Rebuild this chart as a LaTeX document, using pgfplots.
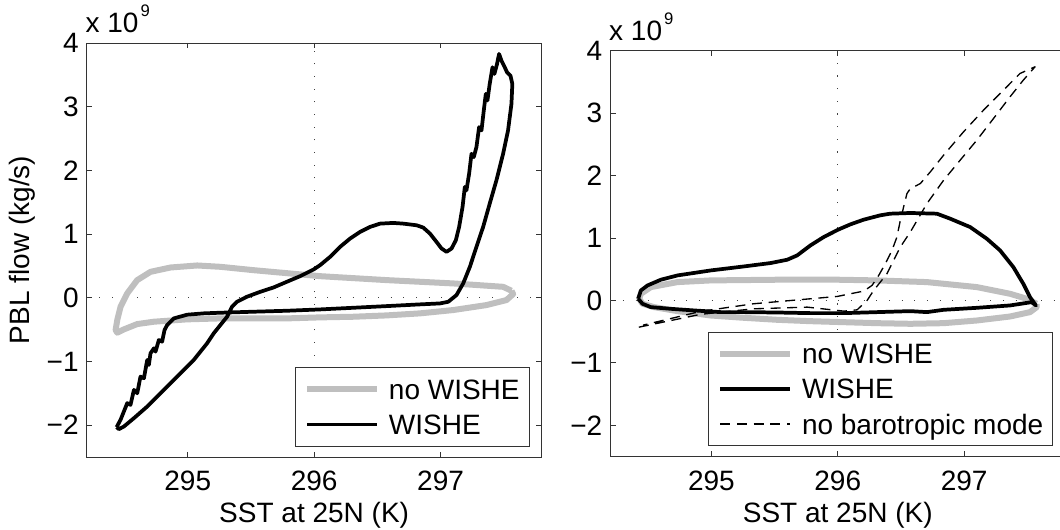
\documentclass[border=0pt]{standalone}
\usepackage{fontspec}
\setmainfont{Liberation Sans}
\usepackage{pgfplots}
\pgfplotsset{compat=1.18}
\definecolor{lgray}{gray}{0.75}
\pgfplotsset{
  mystyle/.style={
    scale only axis,
    clip=false,
    width=341.25pt,
    xmin=294.2, xmax=297.8,
    ymin=-2.5, ymax=4,
    xtick={295,296,297},
    xticklabels={295,296,297},
    ytick={-2,-1,0,1,2,3,4},
    yticklabels={−2,−1,0,1,2,3,4},
    tick align=inside,
    tick pos=both,
    major tick length=4pt,
    axis line style={black!80, line width=0.6pt},
    tick style={black!80, line width=0.6pt},
    tick label style={font=\fontsize{21}{24}\selectfont},
    xticklabel style={anchor=base, yshift=-25.3pt, inner sep=0pt},
    yticklabel style={anchor=east, inner sep=0pt, xshift=-5.8pt},
    label style={font=\fontsize{21}{24}\selectfont},
    xlabel={SST at 25N (K)},
    xlabel style={at={(axis description cs:0.5,0)}, anchor=base, yshift=-49.5pt},
    legend cell align=left,
    legend image code/.code={\draw[##1] (4pt,0pt) -- (56.5pt,0pt);},
    legend style={draw=black!80, line width=0.6pt, fill=white,
      font=\fontsize{21}{24}\selectfont,
      at={(1,0)}, anchor=south east, xshift=-9.2pt, yshift=7.8pt,
      inner xsep=7pt, inner ysep=8.75pt, row sep=11.3pt, column sep=6.5pt,
      nodes={inner sep=0pt, text height=15pt, text depth=0pt}},
    grayline/.style={lgray, line width=4.5pt, line join=round},
    blackline/.style={black, line width=2.8pt, line join=round},
    dotline/.style={forget plot, black!75, line width=0.8pt, dash pattern=on 0.8pt off 8.7pt},
  }
}
\begin{document}
\begin{tikzpicture}
% ---------------- left panel ----------------
\begin{axis}[mystyle, at={(65pt,54.75pt)}, anchor=south west, height=310.5pt,
  ylabel={PBL flow (kg/s)},
  ylabel style={at={(axis description cs:-0.142,0.5)}, anchor=center, rotate=0}]
\addplot[dotline] coordinates {(296,-2.5) (296,4)};
\addplot[dotline] coordinates {(294.2,0) (297.8,0)};
\addplot[grayline] coordinates {
(297.561,0.110) (297.495,0.172) (297.100,0.225) (296.574,0.277) (296.047,0.339)
(295.521,0.433) (295.258,0.486) (295.074,0.507) (294.863,0.475) (294.705,0.407)
(294.600,0.277) (294.521,0.068) (294.468,-0.141) (294.442,-0.350) (294.429,-0.507)
(294.442,-0.548) (294.495,-0.496) (294.600,-0.413) (294.732,-0.376) (294.995,-0.339)
(295.258,-0.324) (295.521,-0.324) (295.784,-0.324) (296.047,-0.308) (296.311,-0.298)
(296.574,-0.277) (296.837,-0.245) (297.100,-0.193) (297.363,-0.115) (297.521,-0.037)
(297.574,0.057) (297.561,0.110)};
\addlegendentry{no WISHE}
\addplot[blackline] coordinates {
(294.437,-2.031) (294.468,-1.916) (294.521,-1.655) (294.547,-1.681) (294.574,-1.446)
(294.600,-1.499) (294.626,-1.238) (294.653,-1.264) (294.679,-0.977) (294.692,-1.055)
(294.705,-0.872) (294.732,-0.794) (294.745,-0.846) (294.771,-0.663) (294.797,-0.689)
(294.816,-0.507) (294.837,-0.428) (294.889,-0.324) (294.995,-0.266) (295.126,-0.245)
(295.258,-0.235) (295.521,-0.219) (295.784,-0.204) (296.047,-0.183) (296.311,-0.157)
(296.574,-0.131) (296.837,-0.104) (296.995,-0.089) (297.061,-0.063) (297.126,0.042)
(297.179,0.225) (297.232,0.486) (297.284,0.799) (297.337,1.112) (297.389,1.478)
(297.442,1.843) (297.495,2.261) (297.534,2.627) (297.561,3.044) (297.568,3.358)
(297.553,3.488) (297.526,3.540) (297.508,3.619) (297.482,3.723) (297.463,3.828)
(297.447,3.671) (297.426,3.514) (297.411,3.619) (297.389,3.358) (297.371,3.097)
(297.358,3.201) (297.342,2.940) (297.324,2.627) (297.305,2.679) (297.284,2.366)
(297.263,2.209) (297.245,2.261) (297.226,1.948) (297.205,1.687) (297.192,1.739)
(297.174,1.426) (297.147,1.112) (297.121,0.903) (297.087,0.773) (297.047,0.721)
(297.008,0.773) (296.968,0.877) (296.916,1.008) (296.863,1.102) (296.811,1.138)
(296.705,1.164) (296.626,1.175) (296.521,1.164) (296.442,1.112) (296.363,1.034)
(296.284,0.929) (296.205,0.799) (296.126,0.642) (296.047,0.512) (295.995,0.444)
(295.889,0.339) (295.784,0.251) (295.679,0.162) (295.574,0.094) (295.468,0.016)
(295.389,-0.063) (295.350,-0.141) (295.311,-0.298) (295.258,-0.428) (295.205,-0.559)
(295.153,-0.715) (295.100,-0.846) (295.047,-0.977) (294.995,-1.081) (294.889,-1.290)
(294.784,-1.499) (294.679,-1.708) (294.574,-1.890) (294.495,-2.021) (294.455,-2.063)
(294.437,-2.031)};
\addlegendentry{WISHE}
\node[anchor=base west, inner sep=0pt, font=\fontsize{21}{24}\selectfont]
  at (rel axis cs:0,1) [xshift=-1pt, yshift=7.5pt]
  {x 10\hspace{1.5pt}\raisebox{12.5pt}{\fontsize{12.5}{13}\selectfont 9}};
\end{axis}
% ---------------- right panel ----------------
\begin{axis}[mystyle, at={(457.7pt,55.1pt)}, anchor=south west, height=304.35pt]
\addplot[dotline] coordinates {(296,-2.5) (296,4)};
\addplot[dotline] coordinates {(294.2,0) (297.8,0)};
\addplot[grayline] coordinates {
(297.574,-0.053) (297.495,0.027) (297.363,0.107) (297.100,0.214) (296.705,0.294)
(296.311,0.321) (296.003,0.332) (295.521,0.332) (294.995,0.321) (294.732,0.294)
(294.521,0.214) (294.442,0.107) (294.429,0.027) (294.455,-0.053) (294.547,-0.107)
(294.732,-0.171) (294.995,-0.241) (295.258,-0.278) (295.521,-0.310) (295.784,-0.332)
(296.047,-0.348) (296.311,-0.364) (296.574,-0.374) (296.837,-0.364) (297.100,-0.321)
(297.363,-0.257) (297.521,-0.187) (297.574,-0.107) (297.574,-0.053)};
\addlegendentry{no WISHE}
\addplot[blackline] coordinates {
(294.421,0.027) (294.442,0.160) (294.495,0.241) (294.600,0.332) (294.732,0.401)
(294.995,0.481) (295.258,0.545) (295.468,0.599) (295.600,0.652) (295.679,0.722)
(295.784,0.882) (295.889,1.016) (296.003,1.134) (296.100,1.219) (296.205,1.294)
(296.337,1.364) (296.416,1.390) (296.574,1.401) (296.784,1.390) (296.889,1.310)
(297.047,1.176) (297.179,0.989) (297.284,0.802) (297.389,0.535) (297.468,0.267)
(297.521,0.053) (297.568,-0.080) (297.534,-0.027) (297.363,-0.080) (297.100,-0.118)
(296.837,-0.150) (296.705,-0.187) (296.574,-0.171) (296.311,-0.187) (296.047,-0.203)
(295.784,-0.203) (295.521,-0.193) (295.258,-0.187) (295.074,-0.187) (294.863,-0.160)
(294.679,-0.134) (294.521,-0.107) (294.455,-0.053) (294.421,0.027)};
\addlegendentry{WISHE}
\addplot[black, line width=1pt, dash pattern=on 7.5pt off 5pt, line join=round] coordinates {
(294.426,-0.428) (294.916,-0.222) (295.334,-0.134) (295.758,-0.107) (296.047,-0.171)
(296.153,-0.150) (296.232,0.000) (296.284,0.160) (296.389,0.428) (296.495,0.856)
(296.574,1.096) (296.705,1.551) (296.837,1.925) (296.968,2.246) (297.100,2.567)
(297.232,2.914) (297.363,3.262) (297.468,3.529) (297.561,3.743) (297.442,3.636)
(297.311,3.369) (297.153,3.048) (296.995,2.701) (296.837,2.326) (296.732,2.059)
(296.653,1.872) (296.574,1.791) (296.547,1.711) (296.521,1.497) (296.495,1.283)
(296.468,1.016) (296.429,0.802) (296.376,0.588) (296.324,0.401) (296.271,0.241)
(296.205,0.150) (296.100,0.107) (295.995,0.064) (295.784,0.027) (295.334,-0.053)
(294.916,-0.175) (294.460,-0.395)};
\addlegendentry{no barotropic mode}
\node[anchor=base west, inner sep=0pt, font=\fontsize{21}{24}\selectfont]
  at (rel axis cs:0,1) [xshift=-1pt, yshift=7.5pt]
  {x 10\hspace{1.5pt}\raisebox{12.5pt}{\fontsize{12.5}{13}\selectfont 9}};
\end{axis}
\pgfresetboundingbox
\useasboundingbox (0pt,0pt) rectangle (795pt,397.5pt);
\end{tikzpicture}
\end{document}
